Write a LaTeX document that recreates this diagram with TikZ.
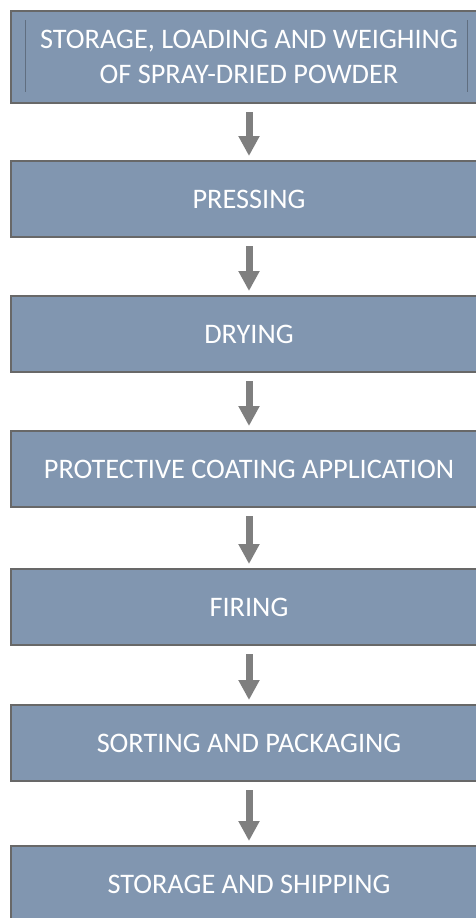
\documentclass[tikz,border=0pt]{standalone}
\usepackage{fontspec}
\setmainfont{Carlito}
\usetikzlibrary{arrows.meta}
\definecolor{boxfill}{RGB}{129,150,176}
\definecolor{boxline}{RGB}{104,104,104}
\definecolor{arrcol}{RGB}{127,127,127}
\definecolor{innerline}{RGB}{96,110,128}
\begin{document}
\begin{tikzpicture}[x=1pt,y=-1pt,
  boxst/.style={draw=boxline, line width=2pt, fill=boxfill, text=white,
    font=\fontsize{28.3}{35}\selectfont, align=center, minimum width=476pt,
    inner sep=0pt, anchor=north west},
  arr/.style={draw=arrcol, line width=7pt, -{Triangle[width=20pt,length=20pt]}, fill=arrcol}]
\useasboundingbox (0,0) rectangle (475,918);
\node[boxst, minimum height=92pt] (b1) at (10,10) {STORAGE, LOADING AND WEIGHING\\OF SPRAY-DRIED POWDER};
\node[boxst, minimum height=76pt] (b2) at (10,160) {PRESSING};
\node[boxst, minimum height=76pt] (b3) at (10,295) {DRYING};
\node[boxst, minimum height=76pt] (b4) at (10,430) {PROTECTIVE COATING APPLICATION};
\node[boxst, minimum height=76pt] (b5) at (10,568) {FIRING};
\node[boxst, minimum height=76pt] (b6) at (10,704) {SORTING AND PACKAGING};
\node[boxst, minimum height=76pt] (b7) at (10,845) {STORAGE AND SHIPPING};
\draw[innerline, line width=0.7pt] (25,20) -- (25,92);
\draw[innerline, line width=0.7pt] (467,20) -- (467,92);
\foreach \a/\b in {b1/b2,b2/b3,b3/b4,b4/b5,b5/b6,b6/b7}
  \draw[arr] ([yshift=-8pt]\a.south) -- ([yshift=4pt]\b.north);
\end{tikzpicture}
\end{document}
